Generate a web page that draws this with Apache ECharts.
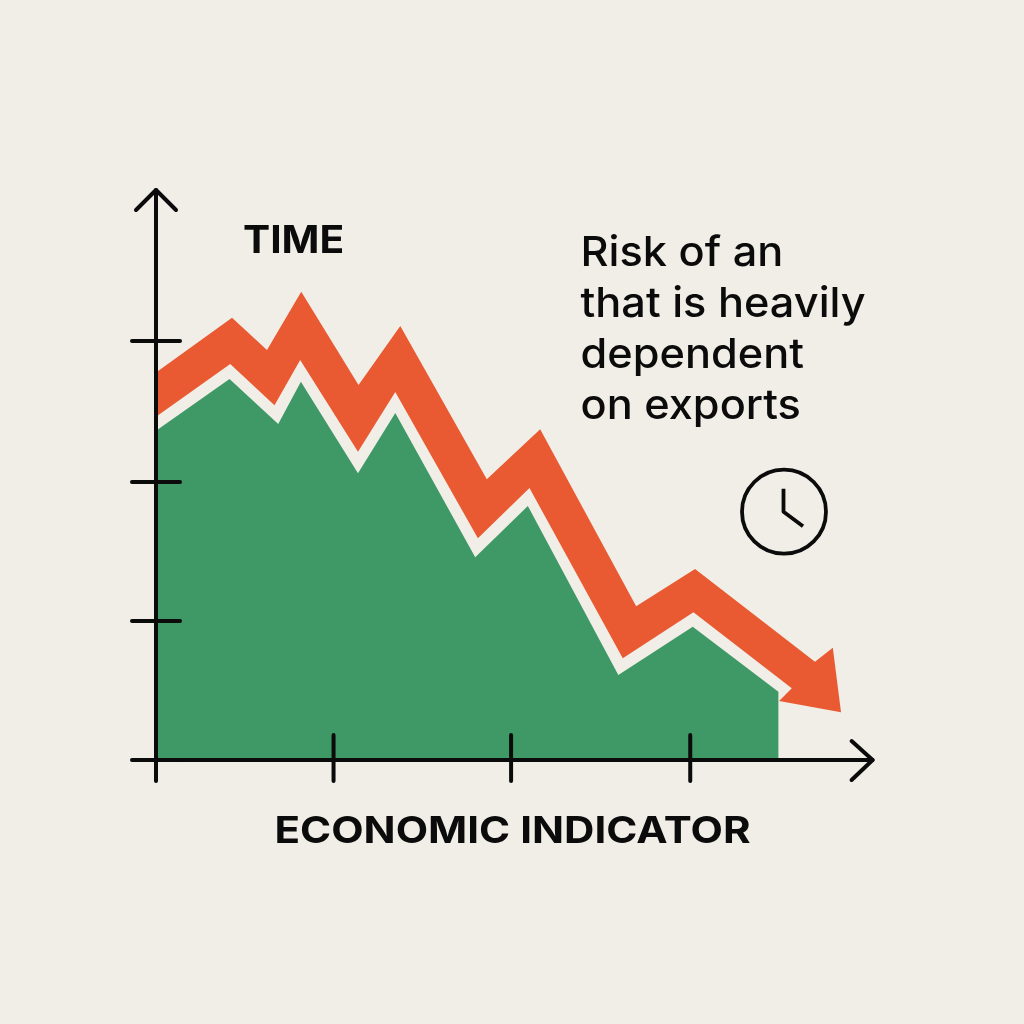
<!DOCTYPE html>
<html>
<head>
<meta charset="utf-8">
<style>
  html, body { margin: 0; padding: 0; background: #f0eee6; }
  #chart { width: 1024px; height: 1024px; }
</style>
<script src="https://cdn.jsdelivr.net/npm/echarts@6/dist/echarts.min.js"></script>
</head>
<body>
<div id="chart"></div>
<script>
// values, about 100 units = one tick step on either axis
const greenArea = [
  [0, 235.7], [41.2, 272.7], [68.5, 240.5], [81.2, 270.8], [113.2, 205.2], [134.1, 248.4],
  [178.9, 145.1], [208.4, 181.8], [259.1, 60.8], [300.8, 95.4], [348.8, 48.9],
];
const redTop = [
  [0, 277.4], [42.6, 316.6], [62.2, 293.5], [81.4, 335.2], [113.5, 268.4], [136.9, 310.7],
  [185.4, 200.9], [215.3, 236.7], [269.1, 110.0], [302.1, 136.7], [369.3, 70.4],
];
const redHead = [[379.3, 80.4], [383.9, 34.1], [349.2, 42.2], [356.3, 51.3]];
const redBottom = [
  [301.2, 105.7], [261.6, 72.8], [209.3, 194.7], [180.4, 158.7], [134.1, 263.4], [113.2, 220.7],
  [80.8, 286.3], [66.4, 253.9], [41.6, 283.5], [0, 245.7],
];
const xTicks = [0, 99.5, 199, 299.4];
const yTicks = [0, 99.5, 199, 300];
const xMax = 401.6;
const yMax = 408;

const xTitle = "ECONOMIC INDICATOR";
const yTitle = "TIME";
const note = ["Risk of an", "that is heavily", "dependent", "on exports"];

const INK = "#0b0b0b";
const FONT = "Inter";

const chart = echarts.init(document.getElementById("chart"), null, { renderer: "canvas" });

const inkLine = { stroke: INK, lineWidth: 4, lineCap: "round", lineJoin: "round", fill: null };

// tick marks cross the axis line, so they are drawn as custom marks
function tickSeries(ticks, isX) {
  return {
    type: "custom",
    z: 6,
    silent: true,
    clip: false,
    data: ticks.map((t) => (isX ? [t, 0] : [0, t])),
    renderItem(params, api) {
      const p = api.coord([api.value(0), api.value(1)]);
      const shape = isX
        ? { x1: p[0], y1: p[1] - 25, x2: p[0], y2: p[1] + 21 }
        : { x1: p[0] - 24, y1: p[1], x2: p[0] + 24, y2: p[1] };
      return { type: "line", shape, style: inkLine };
    },
  };
}

// open arrow heads at the axis ends
function chevronSeries(end, isX) {
  return {
    type: "custom",
    z: 6,
    silent: true,
    clip: false,
    data: [end],
    renderItem(params, api) {
      const p = api.coord([api.value(0), api.value(1)]);
      const pts = isX
        ? [[p[0] - 21, p[1] - 19], p, [p[0] - 21, p[1] + 20]]
        : [[p[0] - 20, p[1] + 20], p, [p[0] + 20, p[1] + 20]];
      return { type: "polyline", shape: { points: pts }, style: inkLine };
    },
  };
}

const arrowOutline = [...redTop, ...redHead, ...redBottom];

const option = {
  backgroundColor: "#f0eee6",
  animation: false,
  grid: { left: 156, top: 190, width: 716.6, height: 570 },
  xAxis: {
    type: "value",
    min: 0,
    max: xMax,
    z: 5,
    splitLine: { show: false },
    axisTick: { show: false },
    axisLabel: { show: false },
    axisLine: { onZero: false, lineStyle: { color: INK, width: 4 } },
  },
  yAxis: {
    type: "value",
    min: 0,
    max: yMax,
    z: 5,
    splitLine: { show: false },
    axisTick: { show: false },
    axisLabel: { show: false },
    axisLine: { onZero: false, lineStyle: { color: INK, width: 4 } },
  },
  series: [
    {
      type: "line",
      data: greenArea,
      z: 2,
      silent: true,
      showSymbol: false,
      lineStyle: { width: 0 },
      areaStyle: { color: "#3f9967", opacity: 1 },
    },
    {
      type: "custom",
      z: 3,
      silent: true,
      clip: false,
      data: arrowOutline,
      renderItem(params, api) {
        if (params.dataIndex > 0) return null;
        return {
          type: "polygon",
          shape: { points: arrowOutline.map((p) => api.coord(p)) },
          style: { fill: "#e95a32" },
        };
      },
    },
    tickSeries(xTicks, true),
    tickSeries(yTicks, false),
    chevronSeries([xMax, 0], true),
    chevronSeries([0, yMax], false),
  ],
  graphic: [
    {
      type: "text",
      x: 243,
      y: 223,
      scaleX: 1.07,
      style: { text: yTitle, fill: INK, font: `700 38px ${FONT}` },
    },
    {
      type: "text",
      x: 274.5,
      y: 813,
      scaleX: 1.137,
      style: { text: xTitle, fill: INK, font: `700 37px ${FONT}` },
    },
    {
      type: "text",
      x: 580.5,
      y: 228,
      scaleX: 1.056,
      style: { text: note.join("\n"), fill: INK, font: `500 41px ${FONT}`, lineHeight: 51 },
    },
    {
      type: "group",
      x: 741,
      y: 468.7,
      children: [
        {
          type: "circle",
          shape: { cx: 43, cy: 43, r: 42 },
          style: { stroke: INK, lineWidth: 3.8, fill: null },
        },
        {
          type: "polyline",
          shape: { points: [[42.5, 20], [42.5, 43], [62, 57.5]] },
          style: { stroke: INK, lineWidth: 3.8, fill: null, lineJoin: "round" },
        },
      ],
    },
  ],
};

chart.setOption(option);
</script>
</body>
</html>
